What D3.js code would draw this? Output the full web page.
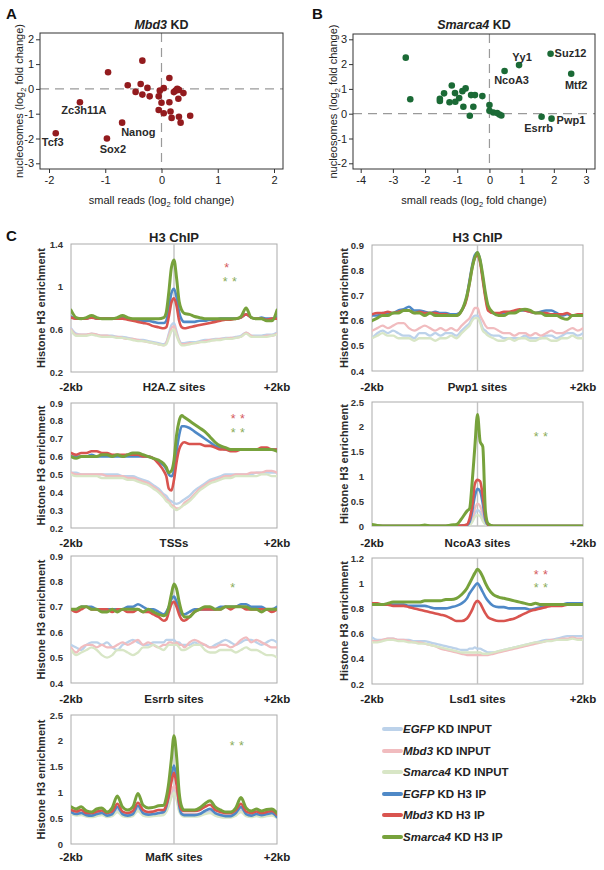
<!DOCTYPE html>
<html><head><meta charset="utf-8">
<script src="https://cdn.jsdelivr.net/npm/d3@7"></script>
<style>body{margin:0;background:#fff}svg{display:block}text{font-family:"Liberation Sans",Arial,Helvetica,sans-serif}</style>
</head><body>
<script>
// ---------------- Scatter data ----------------
const mbd3X = [-0.34,-0.95,-0.60,-0.37,-0.25,-0.46,-0.34,-0.21,-0.05,-0.03,0.04,0.14,0.00,0.14,-0.05,0.04,0.16,0.18,0.22,0.25,0.28,0.31,0.39,0.30,0.31,0.34,0.51,-1.45,-0.70,-0.97,-1.88];
const mbd3Y = [1.14,0.67,0.15,0.20,0.04,-0.12,-0.23,-0.30,-0.30,-0.07,0.03,0.44,-0.56,-0.54,-0.85,-0.98,-0.91,-1.17,-0.13,-0.07,0.00,-0.04,-0.17,-0.40,-1.12,-1.36,-1.08,-0.54,-1.36,-2.00,-1.79];
const mbd3Names = ["","","","","","","","","","","","","","","","","","","","","","","","","","","","Zc3h11A","Nanog","Sox2","Tcf3"];
const smarcaX = [-2.60,-2.46,-1.54,-1.54,-1.41,-1.17,-1.07,-1.24,-1.06,-0.94,-0.84,-0.74,-0.81,-0.57,-0.45,-0.22,-0.50,-0.61,0.00,0.00,0.12,0.24,0.31,0.37,0.47,0.92,1.90,2.54,1.62,1.93];
const smarcaY = [2.26,0.58,0.60,0.51,0.82,1.14,0.83,0.46,0.48,0.63,0.91,1.02,0.28,0.75,0.75,0.71,0.28,-0.08,0.35,0.12,0.05,0.03,-0.03,-0.07,1.72,1.96,2.42,1.61,-0.12,-0.20];
const smarcaNames = ["","","","","","","","","","","","","","","","","","","","","","","","","NcoA3","Yy1","Suz12","Mtf2","Esrrb","Pwp1"];
const mbd3XTicks = [-2,-1,0,1,2];
const mbd3YTicks = [-3,-2,-1,0,1,2];
const smarcaXTicks = [-4,-3,-2,-1,0,1,2,3];
const smarcaYTicks = [-2,-1,0,1,2,3];

// ---------------- Profile data (bp from site centre) ----------------
const positions = [-2000,-1900,-1800,-1700,-1600,-1500,-1400,-1300,-1200,-1100,-1000,-900,-800,-700,-600,-500,-400,-300,
  -200,-150,-100,-50,0,50,100,150,200,
  300,400,500,600,700,800,900,1000,1100,1200,1300,1400,1500,1600,1700,1800,1900,2000];

// H2A.Z sites
const h2az_egfpInput = [0.61,0.56,0.55,0.55,0.56,0.55,0.54,0.54,0.54,0.53,0.53,0.52,0.51,0.50,0.50,0.49,0.48,0.47, 0.46,0.48,0.56,0.64,0.66,0.58,0.50,0.47,0.47, 0.48,0.48,0.49,0.50,0.50,0.51,0.51,0.52,0.52,0.53,0.54,0.57,0.54,0.54,0.54,0.55,0.55,0.57];
const h2az_mbd3Input = [0.60,0.55,0.55,0.55,0.56,0.55,0.54,0.54,0.53,0.53,0.52,0.51,0.51,0.50,0.49,0.48,0.47,0.46, 0.45,0.47,0.54,0.61,0.63,0.56,0.49,0.46,0.46, 0.47,0.47,0.48,0.49,0.50,0.50,0.51,0.51,0.52,0.52,0.53,0.57,0.54,0.53,0.53,0.54,0.54,0.56];
const h2az_smarcaInput = [0.59,0.54,0.54,0.54,0.55,0.54,0.53,0.53,0.53,0.52,0.52,0.51,0.50,0.49,0.49,0.48,0.47,0.46, 0.45,0.46,0.52,0.58,0.60,0.54,0.48,0.45,0.45, 0.46,0.47,0.48,0.48,0.49,0.50,0.50,0.51,0.51,0.52,0.53,0.56,0.53,0.53,0.53,0.53,0.54,0.55];
const h2az_egfpIP = [0.72,0.70,0.70,0.70,0.72,0.70,0.70,0.70,0.70,0.70,0.71,0.70,0.69,0.69,0.68,0.68,0.67,0.66, 0.66,0.68,0.80,0.94,0.98,0.90,0.76,0.69,0.67, 0.67,0.67,0.68,0.68,0.69,0.69,0.70,0.70,0.70,0.70,0.71,0.74,0.71,0.70,0.71,0.70,0.70,0.72];
const h2az_mbd3IP = [0.71,0.70,0.70,0.70,0.71,0.70,0.70,0.70,0.70,0.70,0.70,0.69,0.68,0.67,0.66,0.65,0.63,0.62, 0.61,0.62,0.72,0.85,0.89,0.82,0.68,0.62,0.61, 0.62,0.63,0.64,0.65,0.66,0.67,0.68,0.69,0.69,0.70,0.71,0.74,0.71,0.70,0.70,0.69,0.70,0.70];
const h2az_smarcaIP = [0.78,0.71,0.70,0.71,0.73,0.71,0.70,0.70,0.70,0.71,0.73,0.71,0.70,0.70,0.70,0.70,0.70,0.70, 0.71,0.76,0.95,1.18,1.25,1.08,0.86,0.78,0.75, 0.74,0.72,0.71,0.70,0.70,0.70,0.70,0.70,0.70,0.70,0.72,0.80,0.71,0.70,0.70,0.68,0.68,0.78];

// TSSs
const tss_egfpInput = [0.51,0.51,0.50,0.50,0.50,0.50,0.50,0.50,0.50,0.50,0.49,0.49,0.49,0.48,0.47,0.46,0.44,0.42, 0.39,0.38,0.36,0.35,0.34,0.335,0.34,0.35,0.36, 0.38,0.41,0.43,0.45,0.47,0.48,0.49,0.50,0.50,0.50,0.50,0.50,0.50,0.51,0.51,0.51,0.51,0.51];
const tss_mbd3Input = [0.51,0.50,0.50,0.50,0.50,0.50,0.50,0.49,0.49,0.49,0.49,0.48,0.48,0.47,0.46,0.45,0.43,0.41, 0.38,0.36,0.35,0.33,0.32,0.31,0.31,0.32,0.34, 0.36,0.39,0.42,0.44,0.46,0.47,0.48,0.49,0.49,0.50,0.50,0.50,0.51,0.51,0.51,0.52,0.52,0.51];
const tss_smarcaInput = [0.50,0.49,0.49,0.49,0.49,0.49,0.48,0.48,0.48,0.48,0.48,0.47,0.47,0.46,0.45,0.44,0.42,0.40, 0.37,0.35,0.34,0.32,0.31,0.30,0.31,0.32,0.33, 0.35,0.38,0.41,0.43,0.45,0.46,0.47,0.48,0.48,0.49,0.49,0.49,0.49,0.49,0.50,0.50,0.49,0.49];
const tss_egfpIP = [0.60,0.60,0.60,0.60,0.61,0.60,0.60,0.60,0.60,0.60,0.60,0.60,0.60,0.60,0.60,0.60,0.59,0.57, 0.55,0.53,0.50,0.49,0.52,0.63,0.72,0.77,0.77, 0.76,0.74,0.72,0.70,0.68,0.66,0.65,0.64,0.64,0.64,0.64,0.64,0.64,0.64,0.64,0.64,0.64,0.64];
const tss_mbd3IP = [0.62,0.61,0.62,0.62,0.63,0.63,0.62,0.62,0.61,0.61,0.61,0.61,0.61,0.61,0.60,0.60,0.59,0.56, 0.52,0.49,0.42,0.41,0.47,0.57,0.64,0.67,0.68, 0.67,0.67,0.67,0.66,0.66,0.65,0.64,0.64,0.63,0.63,0.64,0.64,0.64,0.64,0.65,0.65,0.64,0.64];
const tss_smarcaIP = [0.60,0.59,0.60,0.60,0.60,0.60,0.61,0.61,0.60,0.61,0.60,0.61,0.62,0.62,0.61,0.60,0.59,0.58, 0.56,0.54,0.51,0.52,0.58,0.72,0.80,0.83,0.82, 0.80,0.78,0.76,0.74,0.71,0.68,0.66,0.65,0.64,0.64,0.64,0.64,0.64,0.64,0.64,0.64,0.64,0.63];

// Esrrb sites
const esrrb_egfpInput = [0.55,0.54,0.53,0.55,0.56,0.56,0.55,0.56,0.54,0.53,0.55,0.56,0.57,0.56,0.55,0.55,0.56,0.56, 0.56,0.57,0.57,0.57,0.57,0.56,0.56,0.55,0.55, 0.55,0.56,0.55,0.55,0.54,0.55,0.56,0.57,0.56,0.55,0.56,0.57,0.57,0.56,0.55,0.56,0.57,0.56];
const esrrb_mbd3Input = [0.54,0.52,0.54,0.55,0.55,0.54,0.55,0.54,0.54,0.55,0.56,0.55,0.56,0.57,0.55,0.56,0.55,0.54, 0.55,0.55,0.56,0.56,0.55,0.56,0.55,0.55,0.54, 0.56,0.57,0.56,0.55,0.54,0.54,0.55,0.55,0.54,0.55,0.57,0.58,0.56,0.57,0.56,0.55,0.54,0.54];
const esrrb_smarcaInput = [0.53,0.51,0.52,0.53,0.54,0.53,0.51,0.50,0.51,0.53,0.53,0.52,0.51,0.52,0.54,0.54,0.55,0.54, 0.53,0.54,0.55,0.55,0.55,0.55,0.54,0.53,0.53, 0.54,0.55,0.55,0.53,0.52,0.52,0.53,0.53,0.53,0.52,0.53,0.54,0.53,0.53,0.52,0.51,0.51,0.50];
const esrrb_egfpIP = [0.69,0.69,0.70,0.70,0.70,0.69,0.69,0.69,0.69,0.69,0.69,0.70,0.70,0.71,0.70,0.69,0.69,0.68, 0.67,0.68,0.70,0.73,0.74,0.72,0.69,0.67,0.67, 0.68,0.69,0.69,0.69,0.69,0.69,0.70,0.70,0.70,0.70,0.71,0.71,0.70,0.70,0.70,0.69,0.69,0.70];
const esrrb_mbd3IP = [0.69,0.68,0.69,0.70,0.69,0.69,0.69,0.69,0.68,0.69,0.69,0.68,0.68,0.69,0.68,0.68,0.67,0.66, 0.645,0.65,0.68,0.71,0.72,0.70,0.67,0.65,0.645, 0.66,0.68,0.69,0.69,0.69,0.69,0.69,0.70,0.69,0.70,0.70,0.69,0.69,0.69,0.69,0.69,0.68,0.69];
const esrrb_smarcaIP = [0.69,0.69,0.70,0.70,0.69,0.69,0.68,0.68,0.69,0.68,0.69,0.69,0.69,0.69,0.68,0.69,0.68,0.67, 0.665,0.67,0.70,0.75,0.79,0.77,0.72,0.68,0.66, 0.66,0.68,0.69,0.70,0.70,0.69,0.69,0.70,0.70,0.70,0.70,0.70,0.69,0.69,0.68,0.69,0.69,0.69];

// MafK sites
const mafk_egfpInput = [0.60,0.57,0.58,0.55,0.54,0.56,0.58,0.54,0.56,0.66,0.56,0.54,0.56,0.68,0.57,0.55,0.56,0.57, 0.58,0.64,0.78,0.95,1.05,0.90,0.66,0.57,0.55, 0.55,0.55,0.56,0.60,0.62,0.57,0.54,0.53,0.53,0.57,0.65,0.56,0.54,0.56,0.54,0.56,0.57,0.52];
const mafk_mbd3Input = [0.63,0.60,0.61,0.58,0.57,0.59,0.61,0.57,0.59,0.72,0.59,0.57,0.59,0.74,0.60,0.58,0.59,0.60, 0.61,0.68,0.85,1.02,1.12,0.96,0.70,0.60,0.58, 0.58,0.58,0.59,0.64,0.67,0.60,0.57,0.56,0.56,0.60,0.70,0.59,0.57,0.59,0.57,0.59,0.60,0.55];
const mafk_smarcaInput = [0.58,0.55,0.56,0.53,0.52,0.54,0.56,0.52,0.54,0.62,0.54,0.52,0.54,0.64,0.55,0.53,0.54,0.55, 0.56,0.62,0.74,0.90,1.00,0.86,0.63,0.55,0.53, 0.53,0.53,0.54,0.58,0.60,0.55,0.52,0.51,0.51,0.55,0.62,0.54,0.52,0.54,0.52,0.54,0.55,0.50];
const mafk_egfpIP = [0.62,0.58,0.60,0.56,0.55,0.58,0.60,0.55,0.58,0.72,0.58,0.55,0.58,0.74,0.60,0.57,0.58,0.60, 0.62,0.72,0.95,1.30,1.52,1.25,0.75,0.58,0.56, 0.56,0.56,0.58,0.64,0.68,0.60,0.56,0.54,0.54,0.60,0.72,0.58,0.55,0.58,0.56,0.58,0.60,0.52];
const mafk_mbd3IP = [0.66,0.63,0.66,0.60,0.60,0.63,0.65,0.60,0.63,0.78,0.63,0.60,0.64,0.80,0.66,0.62,0.63,0.66, 0.66,0.76,0.95,1.20,1.38,1.15,0.80,0.66,0.64, 0.64,0.64,0.66,0.72,0.76,0.66,0.62,0.60,0.60,0.66,0.78,0.63,0.60,0.63,0.60,0.62,0.64,0.57];
const mafk_smarcaIP = [0.72,0.68,0.72,0.64,0.62,0.68,0.70,0.62,0.70,0.93,0.72,0.66,0.72,0.98,0.75,0.70,0.71,0.74, 0.75,0.90,1.20,1.65,2.10,1.70,1.00,0.72,0.66, 0.66,0.66,0.70,0.78,0.84,0.72,0.66,0.62,0.62,0.70,0.90,0.70,0.64,0.68,0.64,0.67,0.68,0.60];

// Pwp1 sites
const pwp1_egfpInput = [0.53,0.55,0.56,0.55,0.56,0.55,0.54,0.54,0.53,0.55,0.55,0.54,0.55,0.54,0.55,0.55,0.54,0.56, 0.58,0.59,0.61,0.62,0.62,0.60,0.57,0.56,0.55, 0.54,0.54,0.53,0.53,0.53,0.53,0.54,0.53,0.53,0.53,0.54,0.54,0.53,0.54,0.55,0.55,0.54,0.55];
const pwp1_mbd3Input = [0.56,0.57,0.58,0.57,0.58,0.59,0.59,0.57,0.56,0.57,0.58,0.57,0.56,0.57,0.56,0.57,0.56,0.58, 0.60,0.61,0.63,0.65,0.65,0.62,0.60,0.58,0.57, 0.57,0.56,0.55,0.55,0.54,0.55,0.55,0.54,0.55,0.54,0.55,0.56,0.55,0.55,0.56,0.57,0.56,0.57];
const pwp1_smarcaInput = [0.53,0.54,0.55,0.54,0.54,0.53,0.53,0.53,0.52,0.53,0.53,0.53,0.52,0.53,0.53,0.54,0.53,0.55, 0.57,0.58,0.60,0.61,0.61,0.59,0.56,0.55,0.54, 0.53,0.52,0.52,0.53,0.52,0.53,0.53,0.52,0.52,0.53,0.53,0.52,0.52,0.53,0.53,0.54,0.53,0.53];
const pwp1_egfpIP = [0.62,0.62,0.63,0.63,0.63,0.64,0.645,0.655,0.64,0.64,0.635,0.63,0.635,0.63,0.63,0.625,0.625,0.64, 0.70,0.76,0.82,0.86,0.87,0.84,0.77,0.70,0.65, 0.63,0.625,0.63,0.63,0.635,0.64,0.64,0.635,0.63,0.635,0.64,0.64,0.63,0.62,0.625,0.62,0.62,0.62];
const pwp1_mbd3IP = [0.625,0.63,0.63,0.635,0.63,0.635,0.64,0.64,0.63,0.635,0.63,0.63,0.63,0.625,0.625,0.62,0.62,0.64, 0.69,0.75,0.81,0.85,0.86,0.83,0.76,0.69,0.64, 0.63,0.63,0.635,0.635,0.64,0.645,0.64,0.635,0.63,0.63,0.63,0.625,0.625,0.625,0.63,0.62,0.625,0.625];
const pwp1_smarcaIP = [0.60,0.61,0.62,0.62,0.63,0.63,0.64,0.64,0.63,0.63,0.62,0.63,0.62,0.62,0.62,0.62,0.62,0.64, 0.70,0.75,0.81,0.85,0.87,0.84,0.78,0.71,0.66, 0.63,0.62,0.62,0.63,0.63,0.64,0.645,0.64,0.63,0.63,0.62,0.62,0.62,0.61,0.605,0.62,0.62,0.62];

// NcoA3 sites
const ncoa3_egfpInput = [0,0,0,0,0,0,0,0,0,0,0,0,0,0,0,0,0,0, 0,0.03,0.10,0.25,0.32,0.28,0.15,0.04,0, 0,0,0,0,0,0,0,0,0,0,0,0,0,0,0,0,0,0];
const ncoa3_mbd3Input = [0,0,0,0,0,0,0,0,0,0,0,0,0,0,0,0,0,0, 0.01,0.05,0.15,0.35,0.45,0.40,0.25,0.08,0.01, 0,0,0,0,0,0,0,0,0,0,0,0,0,0,0,0,0,0];
const ncoa3_smarcaInput = [0,0,0,0,0,0,0,0,0,0,0,0,0,0,0,0,0,0, 0,0.02,0.08,0.18,0.22,0.20,0.10,0.03,0, 0,0,0,0,0,0,0,0,0,0,0,0,0,0,0,0,0,0];
const ncoa3_egfpIP = [0,0,0,0,0,0,0,0,0,0,0,0,0,0,0,0,0,0.01, 0.02,0.08,0.30,0.60,0.75,0.70,0.45,0.12,0.02, 0,0,0,0,0,0,0,0,0,0,0,0,0,0,0,0,0,0];
const ncoa3_mbd3IP = [0.01,0,0,0,0,0,0,0,0,0,0.01,0,0,0,0,0,0.01,0.01, 0.03,0.15,0.40,0.85,0.93,0.90,0.60,0.20,0.03, 0,0,0,0,0,0,0,0,0,0,0,0,0,0,0,0,0,0];
const ncoa3_smarcaIP = [0.03,0.01,0,0,0,0,0,0,0,0,0.02,0,0,0,0,0.02,0.03,0.15, 0.30,0.35,0.90,1.60,2.25,1.70,1.60,0.30,0.05, 0,0,0,0,0,0,0,0,0,0,0,0,0,0,0,0,0,0];

// Lsd1 sites
const lsd1_egfpInput = [0.57,0.55,0.55,0.56,0.56,0.55,0.55,0.55,0.54,0.54,0.54,0.53,0.52,0.51,0.50,0.49,0.48,0.47, 0.47,0.48,0.48,0.49,0.48,0.48,0.47,0.46,0.45, 0.45,0.46,0.47,0.48,0.49,0.50,0.51,0.52,0.53,0.54,0.55,0.55,0.56,0.57,0.58,0.58,0.58,0.58];
const lsd1_mbd3Input = [0.54,0.54,0.55,0.56,0.56,0.55,0.55,0.54,0.53,0.53,0.52,0.51,0.50,0.48,0.47,0.46,0.45,0.44, 0.43,0.43,0.43,0.43,0.43,0.43,0.43,0.43,0.43, 0.44,0.45,0.46,0.47,0.48,0.49,0.50,0.51,0.52,0.53,0.54,0.55,0.55,0.56,0.56,0.57,0.56,0.56];
const lsd1_smarcaInput = [0.53,0.53,0.54,0.55,0.55,0.54,0.54,0.53,0.53,0.52,0.52,0.51,0.50,0.49,0.48,0.47,0.46,0.45, 0.45,0.45,0.45,0.45,0.45,0.45,0.44,0.44,0.44, 0.45,0.46,0.47,0.48,0.49,0.50,0.51,0.52,0.53,0.53,0.54,0.54,0.55,0.55,0.55,0.56,0.55,0.55];
const lsd1_egfpIP = [0.83,0.83,0.83,0.83,0.83,0.83,0.83,0.82,0.82,0.82,0.82,0.81,0.80,0.80,0.80,0.81,0.82,0.84, 0.88,0.92,0.95,0.98,1.00,0.97,0.93,0.89,0.86, 0.82,0.81,0.81,0.80,0.80,0.80,0.80,0.79,0.80,0.81,0.82,0.83,0.83,0.83,0.84,0.84,0.84,0.84];
const lsd1_mbd3IP = [0.84,0.84,0.83,0.83,0.82,0.82,0.82,0.81,0.80,0.79,0.78,0.77,0.76,0.75,0.74,0.72,0.70,0.70, 0.72,0.75,0.79,0.84,0.86,0.84,0.80,0.76,0.73, 0.71,0.70,0.70,0.71,0.72,0.74,0.76,0.78,0.79,0.80,0.81,0.82,0.82,0.82,0.83,0.83,0.83,0.83];
const lsd1_smarcaIP = [0.83,0.83,0.83,0.84,0.85,0.85,0.85,0.85,0.85,0.85,0.86,0.86,0.86,0.86,0.87,0.87,0.88,0.91, 0.96,1.00,1.04,1.08,1.11,1.09,1.05,1.00,0.96, 0.91,0.89,0.88,0.87,0.86,0.85,0.84,0.83,0.84,0.83,0.83,0.83,0.83,0.83,0.83,0.83,0.83,0.83];

const ticks_h2az = [0.2,0.6,1,1.4];
const ticks_tss = [0.2,0.3,0.4,0.5,0.6,0.7,0.8,0.9];
const ticks_esrrb = [0.4,0.5,0.6,0.7,0.8,0.9];
const ticks_mafk = [0,0.5,1,1.5,2,2.5];
const ticks_pwp1 = [0.4,0.5,0.6,0.7,0.8,0.9];
const ticks_ncoa3 = [0,0.5,1,1.5,2,2.5];
const ticks_lsd1 = [0.2,0.4,0.6,0.8,1,1.2];

const seriesGene = ["EGFP","Mbd3","Smarca4","EGFP","Mbd3","Smarca4"];
const seriesSuffix = [" KD INPUT"," KD INPUT"," KD INPUT"," KD H3 IP"," KD H3 IP"," KD H3 IP"];

// ---------------- Drawing ----------------
const FONT = '"Liberation Sans",Arial,Helvetica,sans-serif';
const svg = d3.select("body").append("svg").attr("width",604).attr("height",870);

const seriesColors = ["#bcd2ea","#f1bcbf","#d8e6c6","#4f89c7","#d9544f","#77a23c"];
const seriesWidths = [2.3,2.3,2.3,2.6,2.6,3.0];

function scatter(cfg){
  const g = svg.append("g");
  const x = d3.scaleLinear().domain([cfg.xTicks[0], cfg.xTicks[cfg.xTicks.length-1]]).range(cfg.xPix);
  const y = d3.scaleLinear().domain([cfg.yTicks[0], cfg.yTicks[cfg.yTicks.length-1]]).range(cfg.yPix);
  const [bx0,bx1,by0,by1] = cfg.box;
  g.append("line").attr("x1",bx0).attr("x2",bx1).attr("y1",y(0)).attr("y2",y(0))
    .attr("stroke","#9a9a9a").attr("stroke-width",1.2).attr("stroke-dasharray","9,6");
  g.append("line").attr("x1",x(0)).attr("x2",x(0)).attr("y1",by0).attr("y2",by1)
    .attr("stroke","#9a9a9a").attr("stroke-width",1.2).attr("stroke-dasharray","9,6");
  const fmt = d => String(d);
  const ax = g.append("g").attr("transform",`translate(0,${by1})`)
    .call(d3.axisBottom(x).tickValues(cfg.xTicks).tickSize(4).tickPadding(3).tickFormat(fmt));
  const ay = g.append("g").attr("transform",`translate(${bx0},0)`)
    .call(d3.axisLeft(y).tickValues(cfg.yTicks).tickSize(4).tickPadding(2).tickFormat(fmt));
  [ax,ay].forEach(a=>{
    a.select(".domain").remove();
    a.selectAll("line").attr("stroke","#333");
    a.selectAll("text").attr("font-family",FONT).attr("font-size",11).attr("fill","#222");
  });
  g.append("rect").attr("x",bx0).attr("y",by0).attr("width",bx1-bx0).attr("height",by1-by0)
    .attr("fill","none").attr("stroke","#333").attr("stroke-width",1);
  g.selectAll("circle").data(cfg.xs).join("circle")
    .attr("cx",(d)=>x(d)).attr("cy",(d,i)=>y(cfg.ys[i])).attr("r",3.3).attr("fill",cfg.color);
  cfg.names.forEach((nm,i)=>{
    if(!nm) return;
    const o = cfg.labelPos[nm];
    g.append("text").attr("x",x(cfg.xs[i])+o[0]).attr("y",y(cfg.ys[i])+o[1]).attr("text-anchor",o[2])
      .attr("font-family",FONT).attr("font-size",11).attr("font-weight","bold").attr("fill","#2a2a2a").text(nm);
  });
  const t = g.append("text").attr("x",(bx0+bx1)/2).attr("y",29).attr("text-anchor","middle")
    .attr("font-family",FONT).attr("font-size",12.5).attr("font-weight","bold").attr("fill","#222");
  t.append("tspan").attr("font-style","italic").text(cfg.gene);
  t.append("tspan").text(" KD");
  const xt = g.append("text").attr("x",(bx0+bx1)/2).attr("y",204).attr("text-anchor","middle")
    .attr("font-family",FONT).attr("font-size",11).attr("fill","#222");
  xt.append("tspan").text("small reads (log");
  xt.append("tspan").attr("font-size",7.5).attr("dy",3).text("2");
  xt.append("tspan").attr("dy",-3).text(" fold change)");
  const yt = g.append("text").attr("transform",`translate(${cfg.yTitleX},${(by0+by1)/2}) rotate(-90)`).attr("text-anchor","middle")
    .attr("font-family",FONT).attr("font-size",11).attr("fill","#222");
  yt.append("tspan").text("nucleosomes (log");
  yt.append("tspan").attr("font-size",7.5).attr("dy",3).text("2");
  yt.append("tspan").attr("dy",-3).text(" fold change)");
  g.append("text").attr("x",cfg.letterX).attr("y",19).attr("font-family",FONT).attr("font-size",15)
    .attr("font-weight","bold").attr("fill","#111").text(cfg.letter);
}

scatter({xTicks:mbd3XTicks,yTicks:mbd3YTicks,xPix:[49,274],yPix:[163.3,39.3],box:[40,283,33,169],
  xs:mbd3X,ys:mbd3Y,names:mbd3Names,color:"#931b1e",gene:"Mbd3",yTitleX:23,letter:"A",letterX:6,
  labelPos:{"Zc3h11A":[4,12,"middle"],"Nanog":[-1,13,"start"],"Sox2":[6,14,"middle"],"Tcf3":[-3,13,"middle"]}});
scatter({xTicks:smarcaXTicks,yTicks:smarcaYTicks,xPix:[360.7,586],yPix:[163.3,39.3],box:[353,595,34,169],
  xs:smarcaX,ys:smarcaY,names:smarcaNames,color:"#1b6a36",gene:"Smarca4",yTitleX:337,letter:"B",letterX:312,
  labelPos:{"NcoA3":[7,13,"middle"],"Yy1":[3,-4,"middle"],"Suz12":[4,3,"start"],"Mtf2":[5,15,"middle"],"Esrrb":[-3,15,"middle"],"Pwp1":[5,5,"start"]}});

// ---------------- Profile panels ----------------
function profile(cfg){
  const g = svg.append("g");
  const [x0,x1] = cfg.col===0 ? [71,277] : [372,583];
  const x = d3.scaleLinear().domain([-2000,2000]).range([x0,x1]);
  const y = d3.scaleLinear().domain([cfg.ticks[0],cfg.ticks[cfg.ticks.length-1]]).range([cfg.bottom,cfg.top]);
  const clipId = "clip"+cfg.id;
  g.append("clipPath").attr("id",clipId).append("rect").attr("x",x0).attr("y",cfg.top-1).attr("width",x1-x0).attr("height",cfg.bottom-cfg.top+1);
  g.append("rect").attr("x",x0).attr("y",cfg.top).attr("width",x1-x0).attr("height",cfg.bottom-cfg.top)
    .attr("fill","none").attr("stroke","#ababab").attr("stroke-width",1);
  g.append("line").attr("x1",x(0)).attr("x2",x(0)).attr("y1",cfg.top).attr("y2",cfg.bottom)
    .attr("stroke","#c2c2c2").attr("stroke-width",1.4);
  const ay = g.append("g").attr("transform",`translate(${x0},0)`)
    .call(d3.axisLeft(y).tickValues(cfg.ticks).tickSize(0).tickPadding(8).tickFormat(d3.format("~g")));
  ay.select(".domain").remove();
  ay.selectAll("text").attr("font-family",FONT).attr("font-size",9.5).attr("font-weight","bold").attr("fill","#333");
  const line = d3.line().x((d,i)=>x(positions[i])).y(d=>y(d)).curve(d3.curveMonotoneX);
  const lg = g.append("g").attr("clip-path",`url(#${clipId})`);
  cfg.series.forEach((s,k)=>{
    lg.append("path").attr("d",line(s)).attr("fill","none").attr("stroke",seriesColors[k])
      .attr("stroke-width",seriesWidths[k]).attr("stroke-linejoin","round").attr("stroke-linecap","round");
  });
  g.append("text").attr("transform",`translate(${cfg.col===0?45:348},${(cfg.top+cfg.bottom)/2}) rotate(-90)`)
    .attr("text-anchor","middle").attr("font-family",FONT).attr("font-size",11).attr("font-weight","bold")
    .attr("fill","#2a2a2a").text("Histone H3 enrichment");
  const lbl = [[x0,"-2kb"],[x(0),cfg.site],[x1,"+2kb"]];
  lbl.forEach(([px,t])=>g.append("text").attr("x",px).attr("y",cfg.lblY).attr("text-anchor","middle")
    .attr("font-family",FONT).attr("font-size",11.5).attr("font-weight","bold").attr("fill","#222").text(t));
  if(cfg.title){
    g.append("text").attr("x",x(0)).attr("y",242).attr("text-anchor","middle").attr("font-family",FONT)
      .attr("font-size",13).attr("font-weight","bold").attr("fill","#222").text(cfg.title);
  }
  (cfg.stars||[]).forEach(s=>{
    g.append("text").attr("x",s[0]).attr("y",s[1]+7).attr("text-anchor","middle").attr("font-family",FONT)
      .attr("font-size",12.5).attr("fill",s[3]).attr("letter-spacing",0.5).text(s[2]);
  });
}
const RS = "#d4595c", GS = "#8aab58";
profile({id:1,col:0,top:244,bottom:372,ticks:ticks_h2az,site:"H2A.Z sites",lblY:391,title:"H3 ChIP",
  series:[h2az_egfpInput,h2az_mbd3Input,h2az_smarcaInput,h2az_egfpIP,h2az_mbd3IP,h2az_smarcaIP],
  stars:[[227,265,"*",RS],[230,279,"* *",GS]]});
profile({id:2,col:0,top:403,bottom:528,ticks:ticks_tss,site:"TSSs",lblY:547,
  series:[tss_egfpInput,tss_mbd3Input,tss_smarcaInput,tss_egfpIP,tss_mbd3IP,tss_smarcaIP],
  stars:[[238,416,"* *",RS],[238,430,"* *",GS]]});
profile({id:3,col:0,top:556,bottom:683,ticks:ticks_esrrb,site:"Esrrb sites",lblY:703,
  series:[esrrb_egfpInput,esrrb_mbd3Input,esrrb_smarcaInput,esrrb_egfpIP,esrrb_mbd3IP,esrrb_smarcaIP],
  stars:[[233,585,"*",GS]]});
profile({id:4,col:0,top:715,bottom:844,ticks:ticks_mafk,site:"MafK sites",lblY:861,
  series:[mafk_egfpInput,mafk_mbd3Input,mafk_smarcaInput,mafk_egfpIP,mafk_mbd3IP,mafk_smarcaIP],
  stars:[[237,743,"* *",GS]]});
profile({id:5,col:1,top:245,bottom:371,ticks:ticks_pwp1,site:"Pwp1 sites",lblY:391,title:"H3 ChIP",
  series:[pwp1_egfpInput,pwp1_mbd3Input,pwp1_smarcaInput,pwp1_egfpIP,pwp1_mbd3IP,pwp1_smarcaIP]});
profile({id:6,col:1,top:402,bottom:526,ticks:ticks_ncoa3,site:"NcoA3 sites",lblY:547,
  series:[ncoa3_egfpInput,ncoa3_mbd3Input,ncoa3_smarcaInput,ncoa3_egfpIP,ncoa3_mbd3IP,ncoa3_smarcaIP],
  stars:[[541,434,"* *",GS]]});
profile({id:7,col:1,top:558,bottom:684,ticks:ticks_lsd1,site:"Lsd1 sites",lblY:703,
  series:[lsd1_egfpInput,lsd1_mbd3Input,lsd1_smarcaInput,lsd1_egfpIP,lsd1_mbd3IP,lsd1_smarcaIP],
  stars:[[541,572,"* *",RS],[541,585,"* *",GS]]});

svg.append("text").attr("x",6).attr("y",241).attr("font-family",FONT).attr("font-size",15)
  .attr("font-weight","bold").attr("fill","#111").text("C");

// ---------------- Legend ----------------
const legendY = [729,751,772,794,815,837];
const leg = svg.append("g");
seriesGene.forEach((gname,k)=>{
  leg.append("line").attr("x1",384).attr("x2",401).attr("y1",legendY[k]).attr("y2",legendY[k])
    .attr("stroke",seriesColors[k]).attr("stroke-width",4).attr("stroke-linecap","round");
  const t = leg.append("text").attr("x",403).attr("y",legendY[k]+4).attr("font-family",FONT)
    .attr("font-size",11.5).attr("font-weight","bold").attr("fill","#222");
  t.append("tspan").attr("font-style","italic").text(gname);
  t.append("tspan").text(seriesSuffix[k]);
});
</script>
</body></html>
